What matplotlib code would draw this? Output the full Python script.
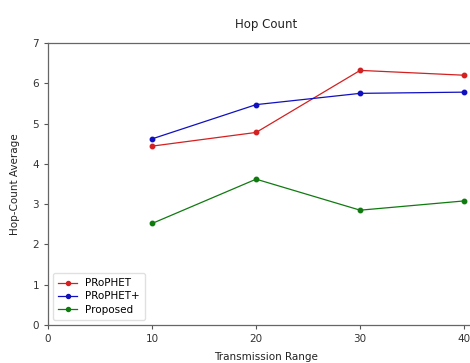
import matplotlib
matplotlib.use("Agg")
import matplotlib.pyplot as plt

ranges = [10, 20, 30, 40]
prophet = [4.44, 4.78, 6.32, 6.20]
prophet_plus = [4.62, 5.47, 5.75, 5.78]
proposed = [2.52, 3.62, 2.85, 3.08]

fig = plt.figure(figsize=(4.70, 3.63), dpi=100)
# axes run past the right edge of the canvas, so the right spine is off-image
ax = fig.add_axes([48 / 470, 1 - 325 / 363, 437 / 470, 282 / 363])

ax.plot(ranges, prophet, color="#d42020", marker="o", ms=3.2, lw=0.9, label="PRoPHET")
ax.plot(ranges, prophet_plus, color="#1010c0", marker="o", ms=3.2, lw=0.9, label="PRoPHET+")
ax.plot(ranges, proposed, color="#107a10", marker="o", ms=3.2, lw=0.9, label="Proposed")

ax.set_xlim(0, 42)
ax.set_ylim(0, 7)
ax.set_xticks([0, 10, 20, 30, 40])
ax.set_yticks(range(8))
ax.tick_params(labelsize=7.5, length=3, color="#555", labelcolor="#333")
for s in ax.spines.values():
    s.set_color("#666")
    s.set_linewidth(0.9)

ax.set_title("Hop Count", fontsize=8.5, color="#222", pad=11)
ax.set_xlabel("Transmission Range", fontsize=7.5, color="#222", labelpad=6)
ax.set_ylabel("Hop-Count Average", fontsize=7.5, color="#222", labelpad=9)
ax.legend(loc="lower left", fontsize=7.5, handlelength=1.8, borderpad=0.5,
          labelspacing=0.3, framealpha=0.9, edgecolor="#ddd", markerscale=0.9)

fig.savefig("out.png", dpi=100)
